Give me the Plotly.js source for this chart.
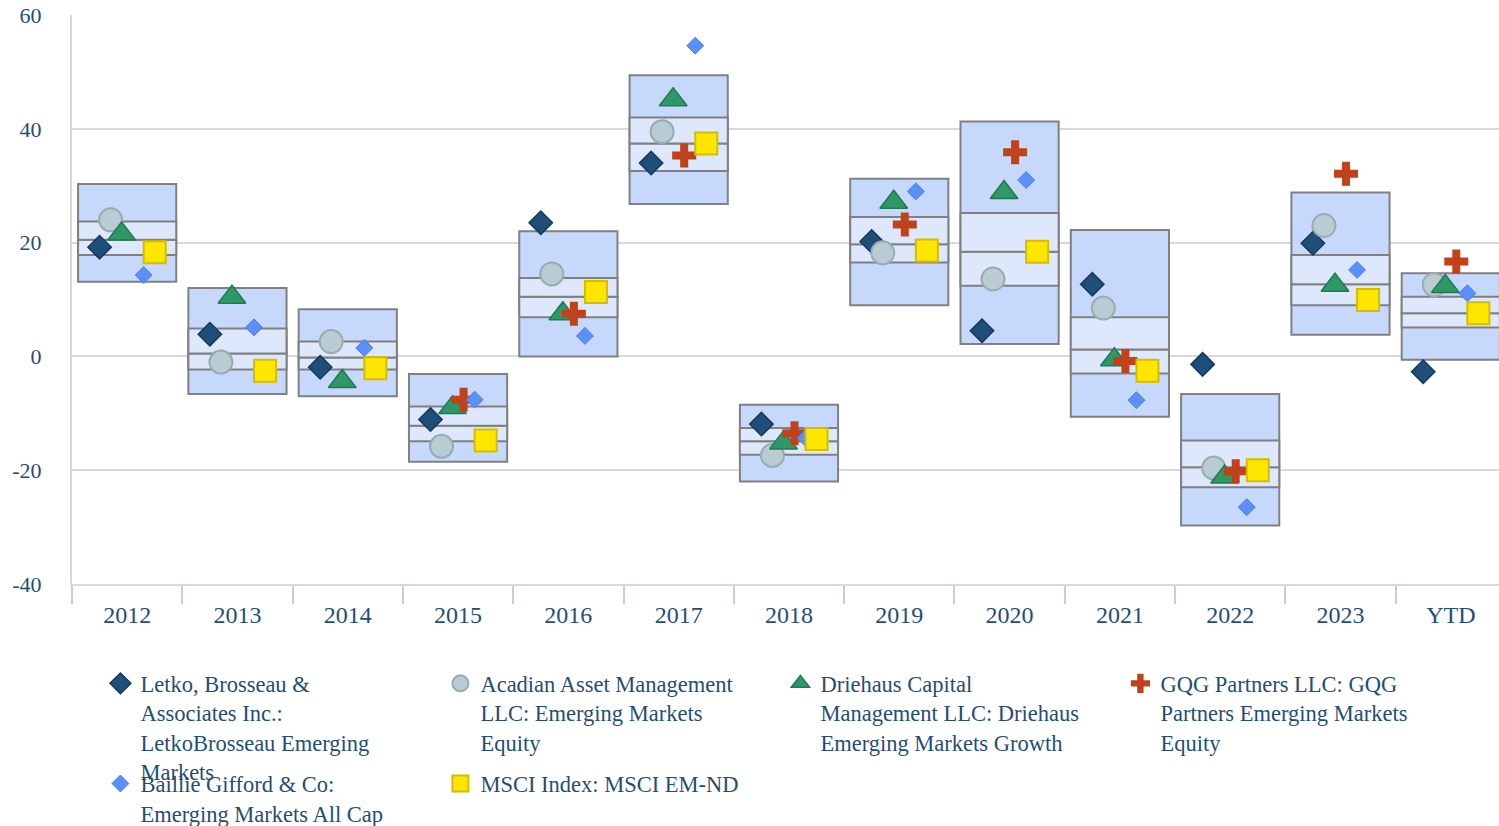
<!DOCTYPE html>
<html><head><meta charset="utf-8">
<script src="https://cdn.plot.ly/plotly-3.0.1.min.js"></script>
<style>html,body{margin:0;padding:0;background:#fff}</style>
</head><body><div id="chart" style="width:1499px;height:826px"></div>
<script>
const years = ['2012','2013','2014','2015','2016','2017','2018','2019','2020','2021','2022','2023','YTD'];
const yTickVals = [-40, -20, 0, 20, 40, 60];
const yTickText = ['-40', '-20', '0', '20', '40', '60'];
// Peer-group percentile boxes
const p95 = [30.3, 12.0, 8.3, -3.1, 22.0, 49.4, -8.5, 31.2, 41.3, 22.2, -6.6, 28.8, 14.6];
const p75 = [23.7, 4.9, 2.6, -8.8, 13.8, 42.0, -12.6, 24.5, 25.2, 6.9, -14.8, 17.8, 10.5];
const p50 = [20.5, 0.5, -0.2, -12.2, 10.5, 37.4, -14.9, 19.7, 18.4, 1.2, -19.5, 12.7, 7.6];
const p25 = [17.8, -2.3, -2.3, -14.9, 6.9, 32.6, -17.3, 16.5, 12.4, -3.0, -23.0, 9.0, 5.1];
const p5  = [13.1, -6.6, -7.0, -18.5, 0.0, 26.8, -22.0, 9.0, 2.2, -10.6, -29.7, 3.8, -0.6];
// Managers / index
const letko    = [19.2, 3.9, -1.9, -11.1, 23.5, 34.0, -11.9, 20.2, 4.5, 12.7, -1.4, 19.9, -2.7];
const acadian  = [24.0, -1.0, 2.6, -15.8, 14.5, 39.5, -17.4, 18.2, 13.6, 8.5, -19.6, 23.0, 12.6];
const driehaus = [21.5, 10.4, -4.4, -9.0, 7.5, 45.1, -15.2, 27.1, 28.8, -0.6, -21.2, 12.5, 12.3];
const gqg      = [null, null, null, -7.6, 7.5, 35.3, -13.5, 23.2, 35.9, -0.8, -20.2, 32.1, 16.7];
const baillie  = [14.3, 5.1, 1.5, -7.6, 3.6, 54.6, -14.3, 29.0, 31.0, -7.7, -26.5, 15.2, 11.1];
const msci     = [18.3, -2.5, -2.1, -14.8, 11.3, 37.4, -14.5, 18.6, 18.4, -2.5, -20.0, 9.9, 7.6];

const names = {
  letko: 'Letko, Brosseau &<br>Associates Inc.:<br>LetkoBrosseau Emerging<br>Markets',
  acadian: 'Acadian Asset Management<br>LLC: Emerging Markets<br>Equity',
  driehaus: 'Driehaus Capital<br>Management LLC: Driehaus<br>Emerging Markets Growth',
  gqg: 'GQG Partners LLC: GQG<br>Partners Emerging Markets<br>Equity',
  baillie: 'Baillie Gifford & Co:<br>Emerging Markets All Cap',
  msci: 'MSCI Index: MSCI EM-ND'
};

const sub = (a, b) => a.map((v, i) => v - b[i]);
const boxLine = {color: '#808080', width: 2};
const traces = [
  {type: 'bar', x: years, base: p5, y: sub(p95, p5), width: 0.89,
   marker: {color: '#c6d9fc', line: boxLine}, showlegend: false, hoverinfo: 'skip'},
  {type: 'bar', x: years, base: p25, y: sub(p50, p25), width: 0.89,
   marker: {color: '#dde8fd', line: boxLine}, showlegend: false, hoverinfo: 'skip'},
  {type: 'bar', x: years, base: p50, y: sub(p75, p50), width: 0.89,
   marker: {color: '#dde8fd', line: boxLine}, showlegend: false, hoverinfo: 'skip'}
];

function pts(vals, off, name, marker, legend) {
  return {type: 'scatter', mode: 'markers', xaxis: 'x2', yaxis: 'y',
    x: years.map((_, i) => i + off), y: vals, name: name, marker: marker,
    legend: legend, cliponaxis: false};
}
traces.push(pts(letko, -0.25, names.letko,
  {symbol: 'diamond', size: 18, color: '#1f4e79', line: {color: '#163a5c', width: 1.5}}, 'legend'));
traces.push(pts(acadian, -0.15, names.acadian,
  {symbol: 'circle', size: 23, color: '#b9ccd4', line: {color: '#9aabb2', width: 2}}, 'legend'));
traces.push(pts(driehaus, -0.05, names.driehaus,
  {symbol: 'triangle-up', size: 24, color: '#2e9966', line: {color: '#237a50', width: 1.5}}, 'legend'));
traces.push(pts(gqg, 0.05, names.gqg,
  {symbol: 'cross', size: 20, color: '#c0411a', line: {width: 0}}, 'legend'));
traces.push(pts(baillie, 0.15, names.baillie,
  {symbol: 'diamond', size: 13, color: '#5b8ff9', line: {color: '#4a7ee6', width: 1}}, 'legend2'));
traces.push(pts(msci, 0.25, names.msci,
  {symbol: 'square', size: 22, color: '#ffe600', line: {color: '#d4bd00', width: 2}}, 'legend2'));

const xr = [-0.5, 12.437];
const txtColor = '#1f4e79';
const serif = 'Liberation Serif, Times New Roman, serif';
const legendBase = {orientation: 'h', xanchor: 'left', yanchor: 'top', valign: 'top',
  entrywidth: 295, entrywidthmode: 'pixels', bgcolor: 'rgba(0,0,0,0)',
  font: {family: serif, size: 22.5, color: txtColor}};

const layout = {
  width: 1499, height: 826,
  margin: {l: 72, r: 0, t: 15, b: 242, autoexpand: false},
  paper_bgcolor: '#fff', plot_bgcolor: '#fff',
  barmode: 'overlay',
  showlegend: true,
  xaxis: {type: 'category', range: xr, tickson: 'boundaries', ticks: 'outside',
    ticklen: 18, tickwidth: 2, tickcolor: '#c3d0e3', showgrid: false,
    showline: true, linecolor: '#d9d9d9', linewidth: 2, fixedrange: true,
    ticklabelstandoff: 8,
    tickfont: {family: serif, size: 24, color: txtColor}},
  xaxis2: {overlaying: 'x', range: xr, visible: false, fixedrange: true},
  yaxis: {range: [-40, 60], tickmode: 'array', tickvals: yTickVals, ticktext: yTickText,
    gridcolor: '#d9d9d9', gridwidth: 2,
    zeroline: false, showline: true, linecolor: '#d9d9d9', linewidth: 2,
    ticks: '', ticklabelstandoff: 24, fixedrange: true,
    tickfont: {family: serif, size: 22, color: txtColor}},
  legend: Object.assign({}, legendBase, {x: 0.0199, y: -0.1375}),
  legend2: Object.assign({}, legendBase, {x: 0.0199, y: -0.3135})
};

Plotly.newPlot('chart', traces, layout, {displayModeBar: false, staticPlot: true});
</script></body></html>
